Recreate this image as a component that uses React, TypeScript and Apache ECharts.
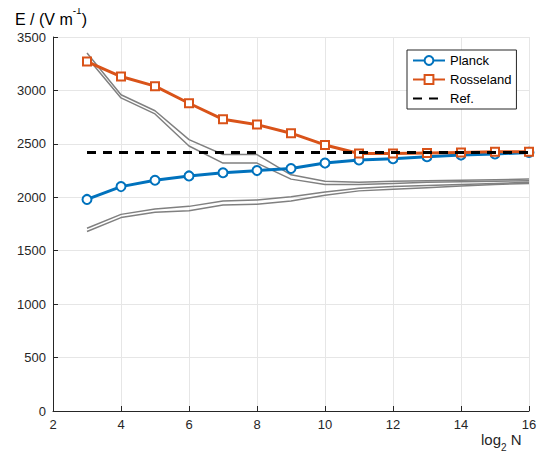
import React, { useEffect, useRef } from "react";
import * as echarts from "echarts";

const xs = [3, 4, 5, 6, 7, 8, 9, 10, 11, 12, 13, 14, 15, 16];
const planck = [1980, 2100, 2160, 2200, 2230, 2250, 2270, 2320, 2350, 2360, 2380, 2395, 2405, 2420];
const rosseland = [3270, 3130, 3040, 2880, 2730, 2680, 2600, 2490, 2410, 2410, 2415, 2420, 2425, 2425];
const refValue = 2420;
const grayA = [3350, 2960, 2810, 2540, 2400, 2400, 2210, 2150, 2140, 2150, 2155, 2160, 2165, 2170];
const grayB = [3310, 2930, 2780, 2480, 2320, 2320, 2170, 2120, 2120, 2130, 2140, 2145, 2150, 2155];
const grayC = [1710, 1840, 1890, 1915, 1965, 1975, 2005, 2050, 2085, 2100, 2110, 2120, 2130, 2140];
const grayD = [1680, 1810, 1860, 1875, 1928, 1935, 1965, 2020, 2060, 2075, 2090, 2105, 2120, 2130];

const FONT = "'Liberation Sans', Arial, Helvetica, sans-serif";

const pairs = (ys: number[]) => xs.map((x, i) => [x, ys[i]]);

export default function App() {
  const ref = useRef<HTMLDivElement>(null);
  useEffect(() => {
    if (!ref.current) return;
    const chart = echarts.init(ref.current, undefined, { renderer: "svg" });
    const grayStyle = (data: number[]) => ({
      type: "line",
      data: pairs(data),
      symbol: "none",
      silent: true,
      lineStyle: { color: "#808080", width: 1.5 },
      z: 1,
    });
    chart.setOption({
      animation: false,
      backgroundColor: "#fff",
      textStyle: { fontFamily: FONT },
      grid: { left: 53, right: 18, top: 37, bottom: 49, containLabel: false },
      xAxis: {
        type: "value",
        min: 2,
        max: 16,
        interval: 2,
        axisLine: { show: true, lineStyle: { color: "#262626", width: 1 } },
        axisTick: { show: true, inside: true, length: 5, lineStyle: { color: "#262626" } },
        axisLabel: { color: "#262626", fontSize: 13, margin: 7, fontFamily: FONT, formatter: (v: number) => String(v) },
        splitLine: { show: true, lineStyle: { color: "#e6e6e6", width: 1 } },
      },
      yAxis: {
        type: "value",
        min: 0,
        max: 3500,
        interval: 500,
        axisLine: { show: true, lineStyle: { color: "#262626", width: 1 } },
        axisTick: { show: true, inside: true, length: 5, lineStyle: { color: "#262626" } },
        axisLabel: { color: "#262626", fontSize: 13, margin: 7, fontFamily: FONT, formatter: (v: number) => String(v) },
        splitLine: { show: true, lineStyle: { color: "#e6e6e6", width: 1 } },
      },
      legend: {
        data: [
          { name: "Planck" },
          { name: "Rosseland" },
          { name: "Ref.", itemStyle: { opacity: 0 } },
        ],
        orient: "vertical",
        left: 407,
        top: 50,
        padding: [4, 5, 4, 5],
        itemGap: 6,
        itemWidth: 32,
        itemHeight: 11,
        backgroundColor: "#fff",
        borderColor: "#262626",
        borderWidth: 1,
        borderRadius: 0,
        textStyle: { color: "#000", fontSize: 13, fontFamily: FONT },
      },
      series: [
        grayStyle(grayA),
        grayStyle(grayB),
        grayStyle(grayC),
        grayStyle(grayD),
        {
          name: "Planck",
          type: "line",
          data: pairs(planck),
          symbol: "emptyCircle",
          symbolSize: 9,
          color: "#0072BD",
          lineStyle: { color: "#0072BD", width: 3 },
          itemStyle: { color: "#0072BD", borderWidth: 2.2 },
          z: 3,
        },
        {
          name: "Rosseland",
          type: "line",
          data: pairs(rosseland),
          symbol: "emptyRect",
          symbolSize: 8,
          color: "#D95319",
          lineStyle: { color: "#D95319", width: 3 },
          itemStyle: { color: "#D95319", borderWidth: 2.2 },
          z: 4,
        },
        {
          name: "Ref.",
          type: "line",
          data: [
            [xs[0], refValue],
            [xs[xs.length - 1], refValue],
          ],
          symbol: "none",
          color: "#000",
          lineStyle: { color: "#000", width: 3, type: [9, 7] },
          z: 5,
        },
      ],
      graphic: [
        {
          type: "text",
          left: 15,
          top: 5,
          style: {
            text: "{a|E / (V m}{s|-1}{a|)}",
            fill: "#000",
            rich: {
              a: { fontSize: 16, fontFamily: FONT, lineHeight: 22, verticalAlign: "bottom", fill: "#000" },
              s: { fontSize: 10, fontFamily: FONT, lineHeight: 22, verticalAlign: "top", fill: "#000" },
            },
          },
        },
        {
          type: "text",
          left: 481,
          top: 432,
          style: {
            text: "{a|log}{s|2}{a| N}",
            fill: "#000",
            rich: {
              a: { fontSize: 15, fontFamily: FONT, lineHeight: 17, verticalAlign: "top", fill: "#262626" },
              s: { fontSize: 10, fontFamily: FONT, lineHeight: 20, verticalAlign: "bottom", fill: "#262626" },
            },
          },
        },
      ],
    });
    return () => chart.dispose();
  }, []);
  return <div ref={ref} style={{ width: 547, height: 460, margin: -8 }} />;
}
